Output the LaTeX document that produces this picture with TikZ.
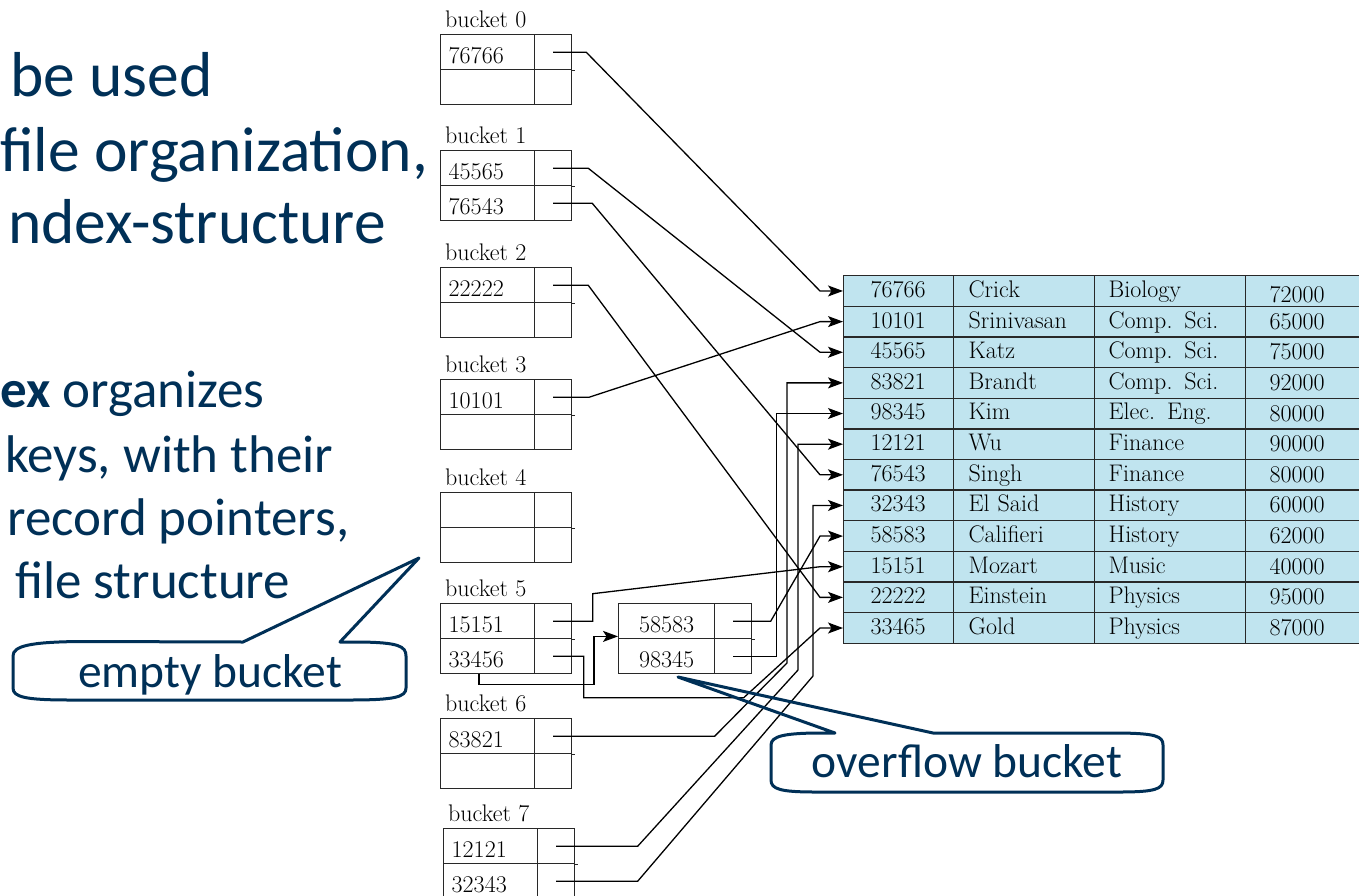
\documentclass[tikz,border=0pt]{standalone}
\usepackage{fontspec}
\newfontfamily\calib{Carlito}
\usetikzlibrary{arrows.meta,calc}
\definecolor{navy}{RGB}{0,48,87}
\definecolor{rowblue}{RGB}{192,228,239}
\definecolor{linegray}{RGB}{40,40,40}
\newcommand{\kfont}{\fontsize{24}{28}\selectfont\addfontfeatures{FakeBold=1.4}}
\newcommand{\mkbucket}[6]{%
  \node[blabel] (#1lab) at (#2+5,#3-6.5) {#4};
  \node[kcell] (#1k1) at (#2,#3) {\hspace*{8pt}#5};
  \node[pcell] (#1p1) at (#2+94,#3) {};
  \node[kcell] (#1k2) at (#2,#3+35) {\hspace*{8pt}#6};
  \node[pcell] (#1p2) at (#2+94,#3+35) {};
  \draw[boxline] (#1p1.south east) -- ++(2.5,0);
}
\begin{document}
\begin{tikzpicture}[x=1pt,y=-1pt,
  boxline/.style={draw=linegray, line width=1.4pt},
  kcell/.style={boxline, minimum width=94pt, text width=94pt, minimum height=35pt, inner sep=0pt,
    anchor=north west, align=left, text height=22pt, text depth=0pt, font=\kfont},
  ocell/.style={kcell, minimum width=96pt, text width=96pt, align=center},
  pcell/.style={boxline, minimum width=37pt, minimum height=35pt, inner sep=0pt, anchor=north west},
  blabel/.style={anchor=base west, inner sep=0pt, font=\kfont},
  tc/.style={draw=linegray, fill=rowblue, line width=1.3pt, minimum height=30.64pt, inner sep=0pt,
    anchor=north west, align=left, text height=12.8pt, text depth=0pt, font=\kfont},
  conn/.style={draw=black, line width=1.3pt, -{Stealth[length=15pt,width=11pt,inset=3.5pt]}},
  ltxtA/.style={anchor=base west, inner sep=0pt, text=navy, font=\calib\fontsize{63.5}{70}\selectfont},
  ltxtB/.style={anchor=base west, inner sep=0pt, text=navy, font=\calib\fontsize{53}{60}\selectfont},
  callout/.style={draw=navy, line width=3pt, line join=round},
  ctxt/.style={anchor=base, inner sep=0pt, text=navy, font=\calib\fontsize{47.5}{52}\selectfont}
]
\useasboundingbox (0,0) rectangle (1359,896);
\fill[white] (0,0) rectangle (1359,896);
\clip (0,0) rectangle (1359,896);

% left text
\node[ltxtA] (l1) at (10,97) {be used};
\node[ltxtA] (l2) at (0,172) {file organization,};
\node[ltxtA] (l3) at (8,243) {ndex-structure};
\node[ltxtB] (l4) at (0,407) {\textbf{ex} organizes};
\node[ltxtB] (l5) at (5,472) {keys, with their};
\node[ltxtB] (l6) at (7,535) {record pointers,};
\node[ltxtB] (l7) at (15,598) {file structure};

% buckets
\mkbucket{b0}{440}{34}{bucket 0}{76766}{}
\mkbucket{b1}{440}{150}{bucket 1}{45565}{76543}
\mkbucket{b2}{440}{267}{bucket 2}{22222}{}
\mkbucket{b3}{440}{379}{bucket 3}{10101}{}
\mkbucket{b4}{440}{492}{bucket 4}{}{}
\mkbucket{b5}{440}{603}{bucket 5}{15151}{33456}
\mkbucket{b6}{440}{718}{bucket 6}{83821}{}
\mkbucket{b7}{443}{828}{bucket 7}{12121}{32343}

% overflow bucket
\node[ocell] (ok1) at (618,603) {58583};
\node[pcell] (op1) at (714,603) {};
\node[ocell] (ok2) at (618,638) {98345};
\node[pcell] (op2) at (714,638) {};
\draw[boxline] (op1.south east) -- ++(2.5,0);

% table
\foreach \i/\rid/\rnm/\rdept/\rsal in {1/76766/Crick/Biology/72000, 2/10101/Srinivasan/Comp. Sci./65000,
  3/45565/Katz/Comp. Sci./75000, 4/83821/Brandt/Comp. Sci./92000, 5/98345/Kim/Elec. Eng./80000,
  6/12121/Wu/Finance/90000, 7/76543/Singh/Finance/80000, 8/32343/El Said/History/60000,
  9/58583/Califieri/History/62000, 10/15151/Mozart/Music/40000, 11/22222/Einstein/Physics/95000,
  12/33465/Gold/Physics/87000}{
  \pgfmathsetmacro\ty{275+(\i-1)*30.64}
  \pgfmathsetmacro\sth{\i==1 ? 23 : 15}
  \node[tc, minimum width=110pt, text width=110pt] (c\i) at (843,\ty) {\hspace*{27pt}\rid};
  \node[tc, minimum width=141pt, text width=141pt] (n\i) at (953,\ty) {\hspace*{15pt}\rnm};
  \node[tc, minimum width=151pt, text width=151pt] (d\i) at (1094,\ty) {\hspace*{14pt}\rdept};
  \node[tc, minimum width=125pt, text width=125pt, text height=\sth pt] (s\i) at (1245,\ty) {\hspace*{24pt}\rsal};
  \coordinate (e\i) at ($(c\i.west)+(-23,0)$);
}

% connectors
\draw[conn] (b0p1.center) -- ++(33,0) -- (e1) -- (c1.west);
\draw[conn] (b1p1.center) -- ++(35,0) -- (e3) -- (c3.west);
\draw[conn] (b1p2.center) -- ++(39,0) -- (e7) -- (c7.west);
\draw[conn] (b2p1.center) -- ++(35,0) -- (e11) -- (c11.west);
\draw[conn] (b3p1.center) -- ++(36,0) -- (e2) -- (c2.west);
\draw[conn] (b5p1.center) -- ++(39.5,0) -- ++(0,-27.5) -- (e10) -- (c10.west);
\draw[conn] (b5p2.center) -- ++(30.5,0) -- ++(0,41.5) -- ++(160,0) -- (e12) -- (c12.west);
\coordinate (o5) at ($(b5k2.south west)+(39,0)$);
\coordinate (oin) at ($(ok1.south west)+(0,-3)$);
\draw[conn] (o5) -- ++(0,10) -| ($(oin)+(-24,0)$) -- (oin);
\draw[conn] (op1.center) -- ++(37.5,0) -- (e9) -- (c9.west);
\draw[conn] (op2.center) -- ++(43.5,0) |- (c5.west);
\draw[conn] (b6p1.center) -- ++(161.5,0) -- (787,663) |- (c4.west);
\draw[conn] (b7p1.center) -- ++(81.5,0) -- (798,670) |- (c6.west);
\draw[conn] (b7p2.center) -- ++(81.5,0) -- (813,676) |- (c8.west);

% callouts
\draw[callout] (13,656) .. controls (13,646) and (30,642) .. (80,641.5) -- (243,642) -- (419,558) -- (340,642)
  -- (360,642) .. controls (398,642.5) and (406,646) .. (406,656) -- (406,688)
  .. controls (406,697) and (395,700) .. (350,700) -- (70,700) .. controls (25,700) and (13,697) .. (13,688) -- cycle;
\node[ctxt] (eb) at (210,687) {empty bucket};

\draw[callout] (771,745) .. controls (771,736) and (785,733.5) .. (815,733) -- (835,733) -- (678,677) -- (933,733)
  -- (1120,733) .. controls (1155,733.5) and (1163,736) .. (1163,745) -- (1163,780)
  .. controls (1163,789) and (1155,792) .. (1120,792) -- (815,792) .. controls (780,792) and (771,789) .. (771,780) -- cycle;
\node[ctxt] (ob) at (967,777) {overflow bucket};
\end{tikzpicture}
\end{document}
